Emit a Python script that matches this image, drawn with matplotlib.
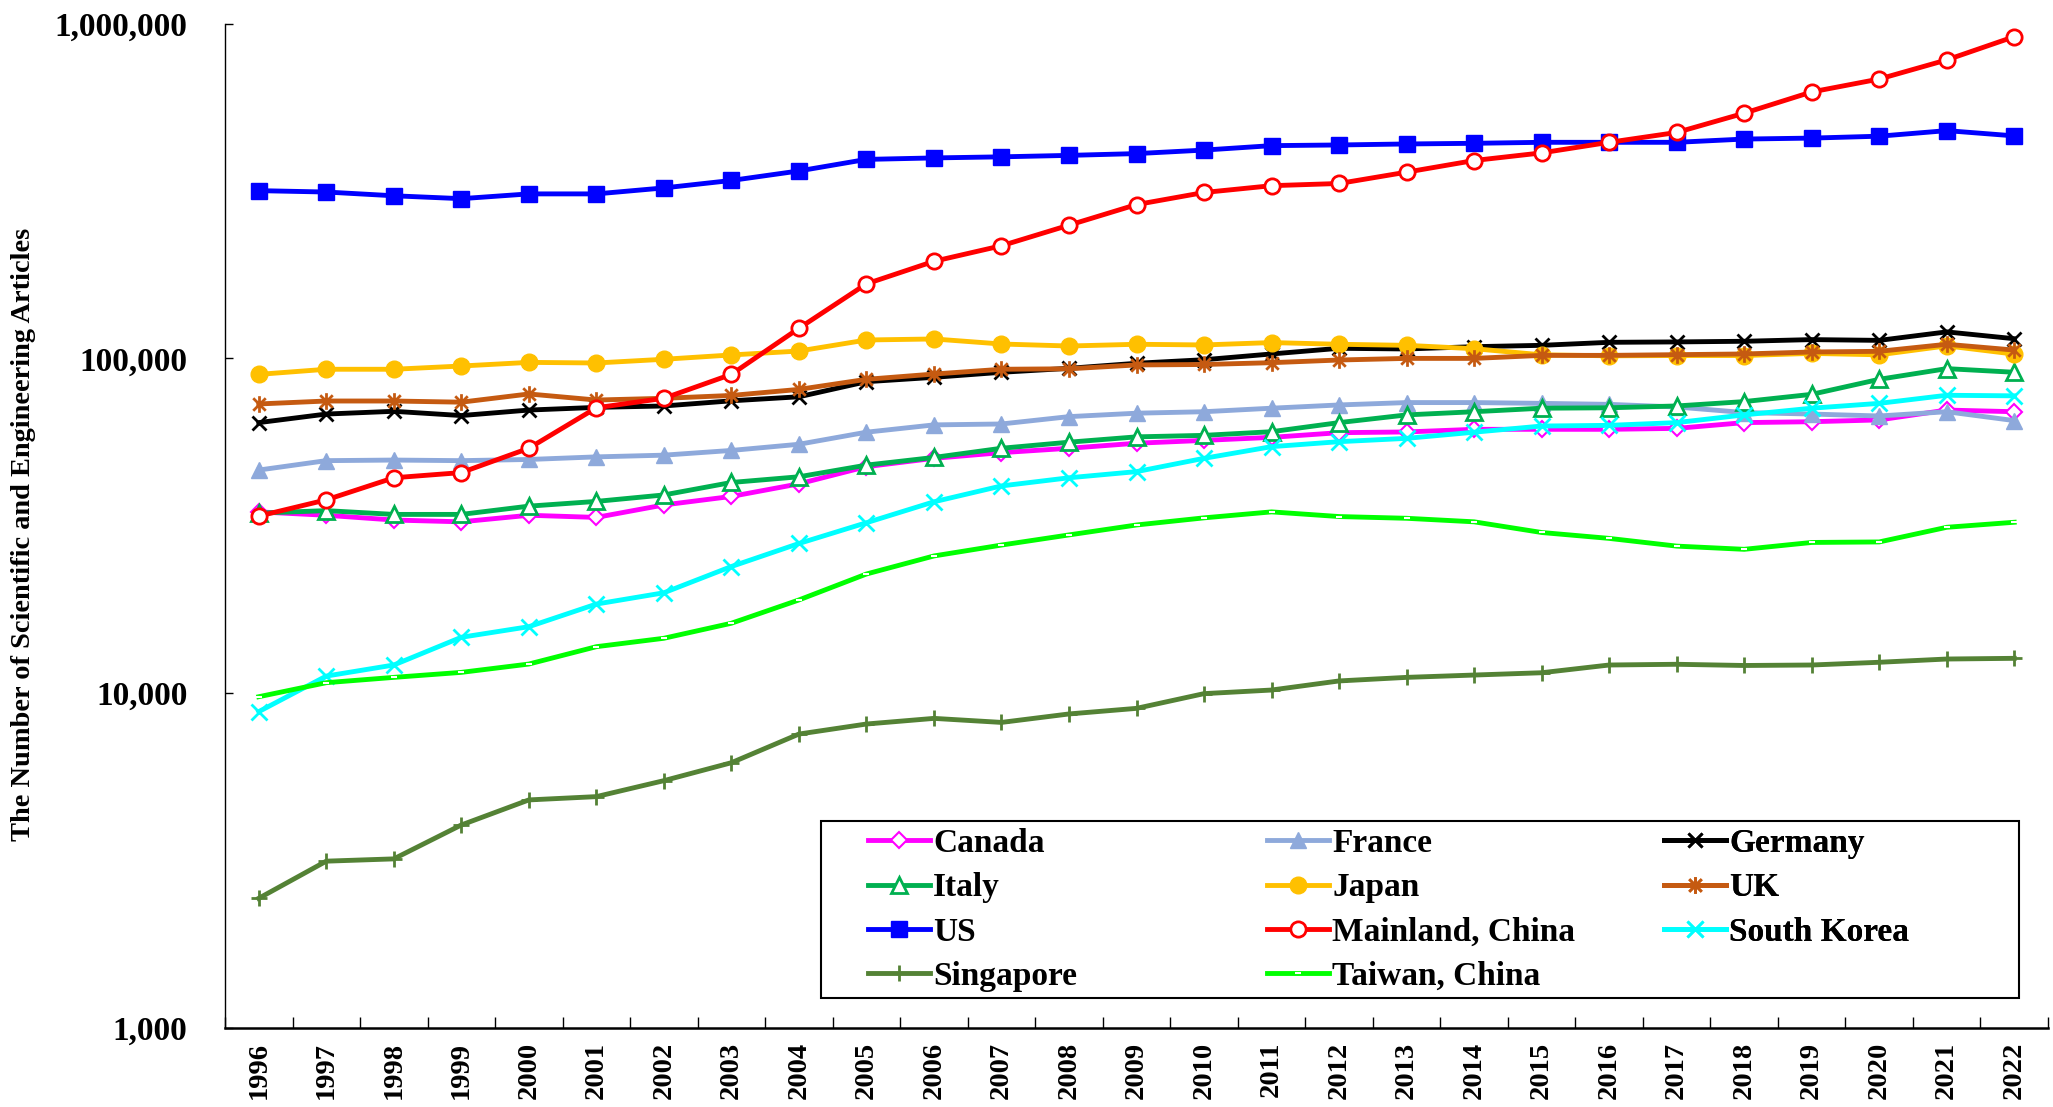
import numpy as np
import matplotlib
matplotlib.use('Agg')
import matplotlib.pyplot as plt
from matplotlib.path import Path
from matplotlib.patches import Rectangle
from matplotlib.ticker import NullLocator, FixedLocator

years = list(range(1996, 2023))

canada = [34800, 34000, 32900, 32500, 34000, 33500, 36500, 38700, 42200, 47500, 50300, 52300, 53900, 55800,
          56900, 58100, 60000, 60300, 61400, 61400, 61400, 61800, 64300, 64700, 65500, 70100, 69300]
france = [46400, 49500, 49700, 49500, 49900, 50800, 51400, 53100, 55400, 60200, 63300, 63700, 67000, 68600,
          69300, 71000, 72600, 73800, 73800, 73400, 72900, 71600, 68900, 68200, 67300, 69300, 65200]
germany = [64300, 68200, 69500, 67500, 70100, 71400, 72100, 74700, 76800, 85200, 87800, 90900, 93400, 96700,
           99100, 103100, 107200, 106700, 108400, 109400, 111700, 112000, 112500, 113800, 113200, 120000, 114500]
italy = [34500, 35100, 34200, 34200, 36200, 37400, 39100, 42600, 44300, 48000, 50600, 53900, 56200, 58300,
         58900, 60400, 64300, 67800, 69300, 71000, 71200, 72100, 74300, 78100, 86600, 93200, 90900]
japan = [89600, 92800, 92800, 94900, 97300, 96900, 99400, 102400, 105200, 113500, 114300, 110400, 108900, 110200,
         109700, 111500, 110200, 109400, 106900, 102500, 101800, 102000, 102000, 103500, 102500, 109000, 103000]
uk = [73100, 74600, 74600, 74000, 78300, 75100, 76000, 77500, 80800, 86600, 89800, 92800, 93100, 95600,
      95900, 97100, 98900, 100000, 100000, 102100, 102100, 102600, 103100, 104500, 105000, 110200, 105900]
us = [317000, 314000, 306000, 300000, 310000, 310000, 323000, 340000, 363000, 393000, 397000, 400000, 404000, 409000,
      419000, 432000, 434000, 437000, 439000, 442000, 442000, 442000, 452000, 455000, 461000, 479000, 462000]
china = [33800, 37800, 44000, 45600, 53900, 71200, 76000, 89600, 123000, 167000, 195000, 217000, 250000, 288000,
         313000, 328000, 333000, 360000, 390000, 411000, 442000, 473000, 540000, 625000, 683000, 779000, 914000]
korea = [8810, 11250, 12140, 14690, 15800, 18460, 19950, 23900, 28000, 32300, 37300, 41600, 44000, 45900,
         50300, 54500, 56400, 57700, 60200, 62800, 63100, 64300, 67800, 71000, 73400, 77600, 77300]
singapore = [2440, 3150, 3200, 4040, 4800, 4910, 5480, 6200, 7550, 8090, 8410, 8180, 8670, 9010,
             9970, 10220, 10880, 11150, 11330, 11510, 12140, 12200, 12100, 12140, 12370, 12650, 12710]
taiwan = [9760, 10750, 11150, 11540, 12220, 13770, 14590, 16180, 18990, 22700, 25700, 27700, 29700, 31800,
          33400, 34800, 33700, 33300, 32500, 30200, 29000, 27500, 26900, 28200, 28300, 31300, 32400]

plt.rcParams['font.family'] = 'Liberation Serif'
plt.rcParams['font.weight'] = 'bold'

# Excel-style asterisk: an x with a vertical bar
star = Path([(0, -1), (0, 1), (-0.75, -0.75), (0.75, 0.75), (-0.75, 0.75), (0.75, -0.75)],
            [Path.MOVETO, Path.LINETO] * 3)

fig = plt.figure(figsize=(20.53, 11.07), dpi=100)
ax = fig.add_axes([225 / 2053, 79 / 1107, 1823 / 2053, 1004.4 / 1107])

lw = 3.5
lines = {}
lines['Canada'], = ax.plot(years, canada, color='#FF00FF', lw=lw, marker='D', ms=8, mfc='white', mec='#FF00FF', mew=1.5)
lines['France'], = ax.plot(years, france, color='#8EA9DB', lw=lw, marker='^', ms=11)
lines['Germany'], = ax.plot(years, germany, color='black', lw=lw, marker='x', ms=10, mew=2)
lines['Italy'], = ax.plot(years, italy, color='#00B050', lw=lw, marker='^', ms=11, mfc='white', mec='#00B050', mew=2)
lines['Japan'], = ax.plot(years, japan, color='#FFC000', lw=lw, marker='o', ms=12)
lines['UK'], = ax.plot(years, uk, color='#C55A11', lw=lw, marker=star, ms=12, mew=2)
lines['US'], = ax.plot(years, us, color='#0000FF', lw=lw, marker='s', ms=11)
lines['Mainland, China'], = ax.plot(years, china, color='#FF0000', lw=lw, marker='o', ms=11, mfc='white', mec='#FF0000', mew=2)
lines['South Korea'], = ax.plot(years, korea, color='#00FFFF', lw=lw, marker='x', ms=11, mew=2)
lines['Singapore'], = ax.plot(years, singapore, color='#548235', lw=lw, marker='+', ms=11, mew=2)
lines['Taiwan, China'], = ax.plot(years, taiwan, color='#00FF00', lw=lw, marker='_', ms=4, mec='white', mew=1.5)

ax.set_yscale('log')
ax.set_ylim(1000, 1000000)
ax.set_xlim(1995.5, 2022.5)
ax.yaxis.set_major_locator(FixedLocator([1e3, 1e4, 1e5, 1e6]))
ax.yaxis.set_minor_locator(NullLocator())
ax.set_yticklabels(['1,000', '10,000', '100,000', '1,000,000'])
ax.tick_params(axis='y', direction='in', length=6, width=1, labelsize=24, pad=27)

ax.set_xticks(years)
ax.set_xticklabels([str(y) for y in years], rotation=90, fontsize=20.5)
ax.set_xticks(np.arange(1995.5, 2023), minor=True)
ax.tick_params(axis='x', which='major', length=0, pad=10)
ax.tick_params(axis='x', which='minor', direction='in', length=8, width=1)

for side in ['top', 'right']:
    ax.spines[side].set_visible(False)
ax.spines['left'].set_linewidth(1)
ax.spines['bottom'].set_linewidth(1.8)

fig.text(24 / 2053, 1 - 534 / 1107, 'The Number of Scientific and Engineering Articles',
         rotation=90, ha='center', va='center', fontsize=20.4, fontweight='bold')

# legend laid out as three equal-width columns inside one frame
columns = [['Canada', 'Italy', 'US', 'Singapore'],
           ['France', 'Japan', 'Mainland, China', 'Taiwan, China'],
           ['Germany', 'UK', 'South Korea']]
col_x = [868, 1267, 1664]
for names, x in zip(columns, col_x):
    leg = ax.legend([lines[n] for n in names], names, loc='upper left',
                    bbox_to_anchor=(x / 2053, 1 - 828 / 1107), bbox_transform=fig.transFigure,
                    frameon=False, borderpad=0, borderaxespad=0, handlelength=1.85,
                    handletextpad=0.1, labelspacing=0.4, prop={'size': 24, 'weight': 'bold'})
    ax.add_artist(leg)

fig.add_artist(Rectangle((821 / 2053, 1 - 998 / 1107), 1198 / 2053, 177 / 1107,
                         transform=fig.transFigure, fill=False, ec='black', lw=1.5))

fig.savefig('out.png', dpi=100)
